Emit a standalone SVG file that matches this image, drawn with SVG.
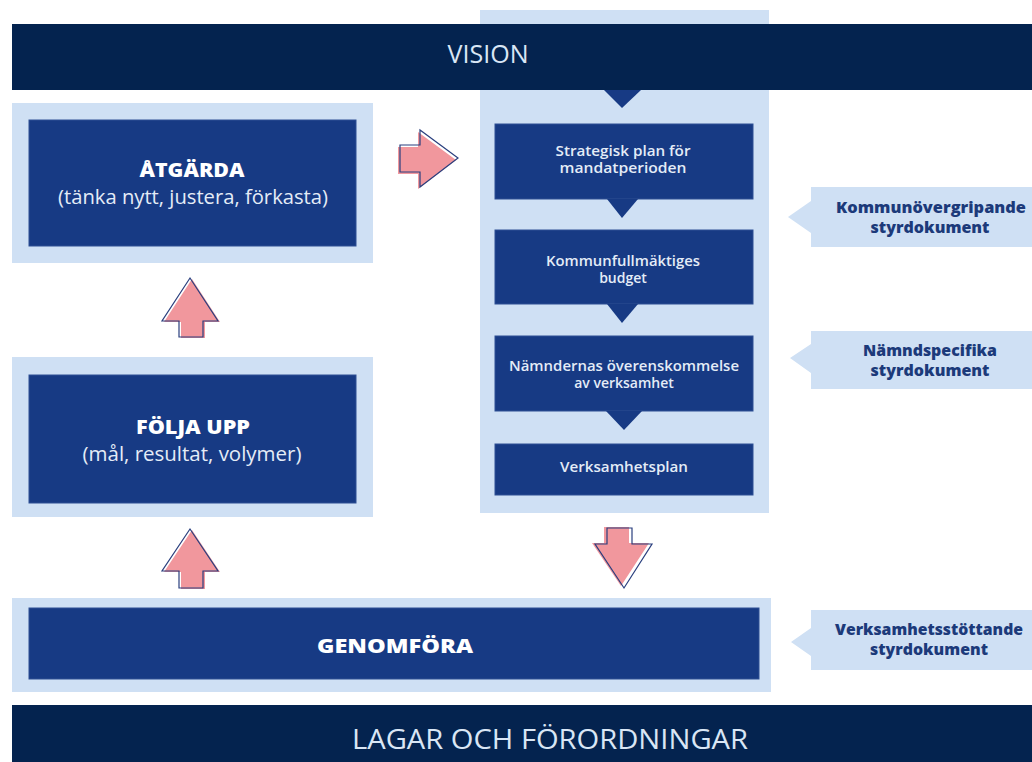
<svg xmlns="http://www.w3.org/2000/svg" width="1032" height="762" viewBox="0 0 1032 762">
<style>
.bar{fill:#04234F}
.light{fill:#CFE0F4}
.box{fill:#173A84;stroke:#2E4F93;stroke-width:1}
.tri{fill:#173A84}
.barText{font-family:"Open Sans",sans-serif;fill:#D9E6F5;text-anchor:middle}
.bigB{font-family:"Open Sans",sans-serif;font-weight:800;fill:#FFFFFF;text-anchor:middle;font-size:20px}
.bigN{font-family:"Open Sans",sans-serif;fill:#E4ECF7;text-anchor:middle;font-size:20px}
.small{font-family:"Open Sans",sans-serif;font-weight:600;fill:#E4ECF7;text-anchor:middle;font-size:14px}
.call{font-family:"Open Sans",sans-serif;font-weight:800;fill:#1C3A7A;text-anchor:middle;font-size:15px}
.pink{fill:#F1979D}
.outline{fill:none;stroke:#2A3F7E;stroke-width:1.2}
</style>
<rect width="1032" height="762" fill="#FFFFFF"/>

<g id="panel">
<rect class="light" x="480" y="10" width="289" height="503"/>
</g>

<g id="vision">
<rect class="bar" x="12" y="24" width="1020" height="66"/>
<text class="barText" x="488" y="63" font-size="25" textLength="81" lengthAdjust="spacingAndGlyphs">VISION</text>
</g>

<g id="strategisk">
<rect class="box" x="495" y="124" width="258" height="75"/>
<text class="small" x="623" y="156" textLength="135" lengthAdjust="spacingAndGlyphs">Strategisk plan för</text>
<text class="small" x="623" y="173" textLength="127" lengthAdjust="spacingAndGlyphs">mandatperioden</text>
</g>
<g id="budget">
<rect class="box" x="495" y="230" width="258" height="74"/>
<text class="small" x="623" y="266" textLength="154" lengthAdjust="spacingAndGlyphs">Kommunfullmäktiges</text>
<text class="small" x="623" y="283">budget</text>
</g>
<g id="overenskommelse">
<rect class="box" x="495" y="336" width="258" height="75"/>
<text class="small" x="624" y="371" textLength="230" lengthAdjust="spacingAndGlyphs">Nämndernas överenskommelse</text>
<text class="small" x="624" y="388">av verksamhet</text>
</g>
<g id="verksamhetsplan">
<rect class="box" x="495" y="444" width="258" height="51"/>
<text class="small" x="624" y="472" textLength="128" lengthAdjust="spacingAndGlyphs">Verksamhetsplan</text>
</g>

<g id="atgarda">
<rect class="light" x="12" y="103" width="361" height="160"/>
<rect class="box" x="29" y="120" width="327" height="126"/>
<text class="bigB" x="192" y="177" textLength="105" lengthAdjust="spacingAndGlyphs">ÅTGÄRDA</text>
<text class="bigN" x="193" y="204" textLength="270" lengthAdjust="spacingAndGlyphs">(tänka nytt, justera, förkasta)</text>
</g>

<g id="folja">
<rect class="light" x="12" y="357" width="361" height="160"/>
<rect class="box" x="29" y="375" width="327" height="128"/>
<text class="bigB" x="193" y="434" textLength="114" lengthAdjust="spacingAndGlyphs">FÖLJA UPP</text>
<text class="bigN" x="192" y="461" textLength="219" lengthAdjust="spacingAndGlyphs">(mål, resultat, volymer)</text>
</g>

<g id="genomfora">
<rect class="light" x="12" y="598" width="759" height="94"/>
<rect class="box" x="29" y="608" width="730" height="71"/>
<text class="bigB" x="395" y="653" font-size="22" font-weight="700" textLength="156" lengthAdjust="spacingAndGlyphs">GENOMFÖRA</text>
</g>

<g id="lagar">
<rect class="bar" x="12" y="705" width="1020" height="57"/>
<text class="barText" x="550" y="749" font-size="28" textLength="396" lengthAdjust="spacingAndGlyphs">LAGAR OCH FÖRORDNINGAR</text>
</g>

<g id="callout1">
<polygon class="light" points="811,187 1032,187 1032,247 811,247 811,233 788,217 811,201"/>
<text class="call" x="931" y="213" textLength="190" lengthAdjust="spacingAndGlyphs">Kommunövergripande</text>
<text class="call" x="930" y="233" textLength="119" lengthAdjust="spacingAndGlyphs">styrdokument</text>
</g>
<g id="callout2">
<polygon class="light" points="811,331 1032,331 1032,389 811,389 811,373 790,358 811,344"/>
<text class="call" x="930" y="356" textLength="134" lengthAdjust="spacingAndGlyphs">Nämndspecifika</text>
<text class="call" x="930" y="376" textLength="119" lengthAdjust="spacingAndGlyphs">styrdokument</text>
</g>
<g id="callout3">
<polygon class="light" points="811,610 1032,610 1032,670 811,670 811,656 791,642 811,628"/>
<text class="call" x="929" y="635" textLength="188" lengthAdjust="spacingAndGlyphs">Verksamhetsstöttande</text>
<text class="call" x="929" y="655" textLength="118" lengthAdjust="spacingAndGlyphs">styrdokument</text>
</g>

<g id="connectors">
<polygon class="tri" points="604,90 641,90 622,108"/>
<polygon class="tri" points="607,199 638,199 622,218"/>
<polygon class="tri" points="607,304 638,304 622,323"/>
<polygon class="tri" points="606,411 642,411 624,430"/>

<polygon class="pink" points="398,147 418,147 418,132 456,160 418,189 418,174 398,174"/>
<polygon class="outline" points="400,145 420,145 420,130 458,158 420,187 420,172 400,172"/>

<polygon class="pink" points="192,279 220,322 205,322 205,338 181,338 181,322 164,322"/>
<polygon class="outline" points="190,278 218,321 203,321 203,337 179,337 179,321 162,321"/>

<polygon class="pink" points="192,530 220,572 205,572 205,589 181,589 181,572 164,572"/>
<polygon class="outline" points="190,529 218,571 203,571 203,588 179,588 179,571 162,571"/>

<polygon class="pink" points="604,527 629,527 629,543 649,543 621,586 592,543 604,543"/>
<polygon class="outline" points="607,528 632,528 632,544 652,544 624,588 595,544 607,544"/>
</g>
</svg>
